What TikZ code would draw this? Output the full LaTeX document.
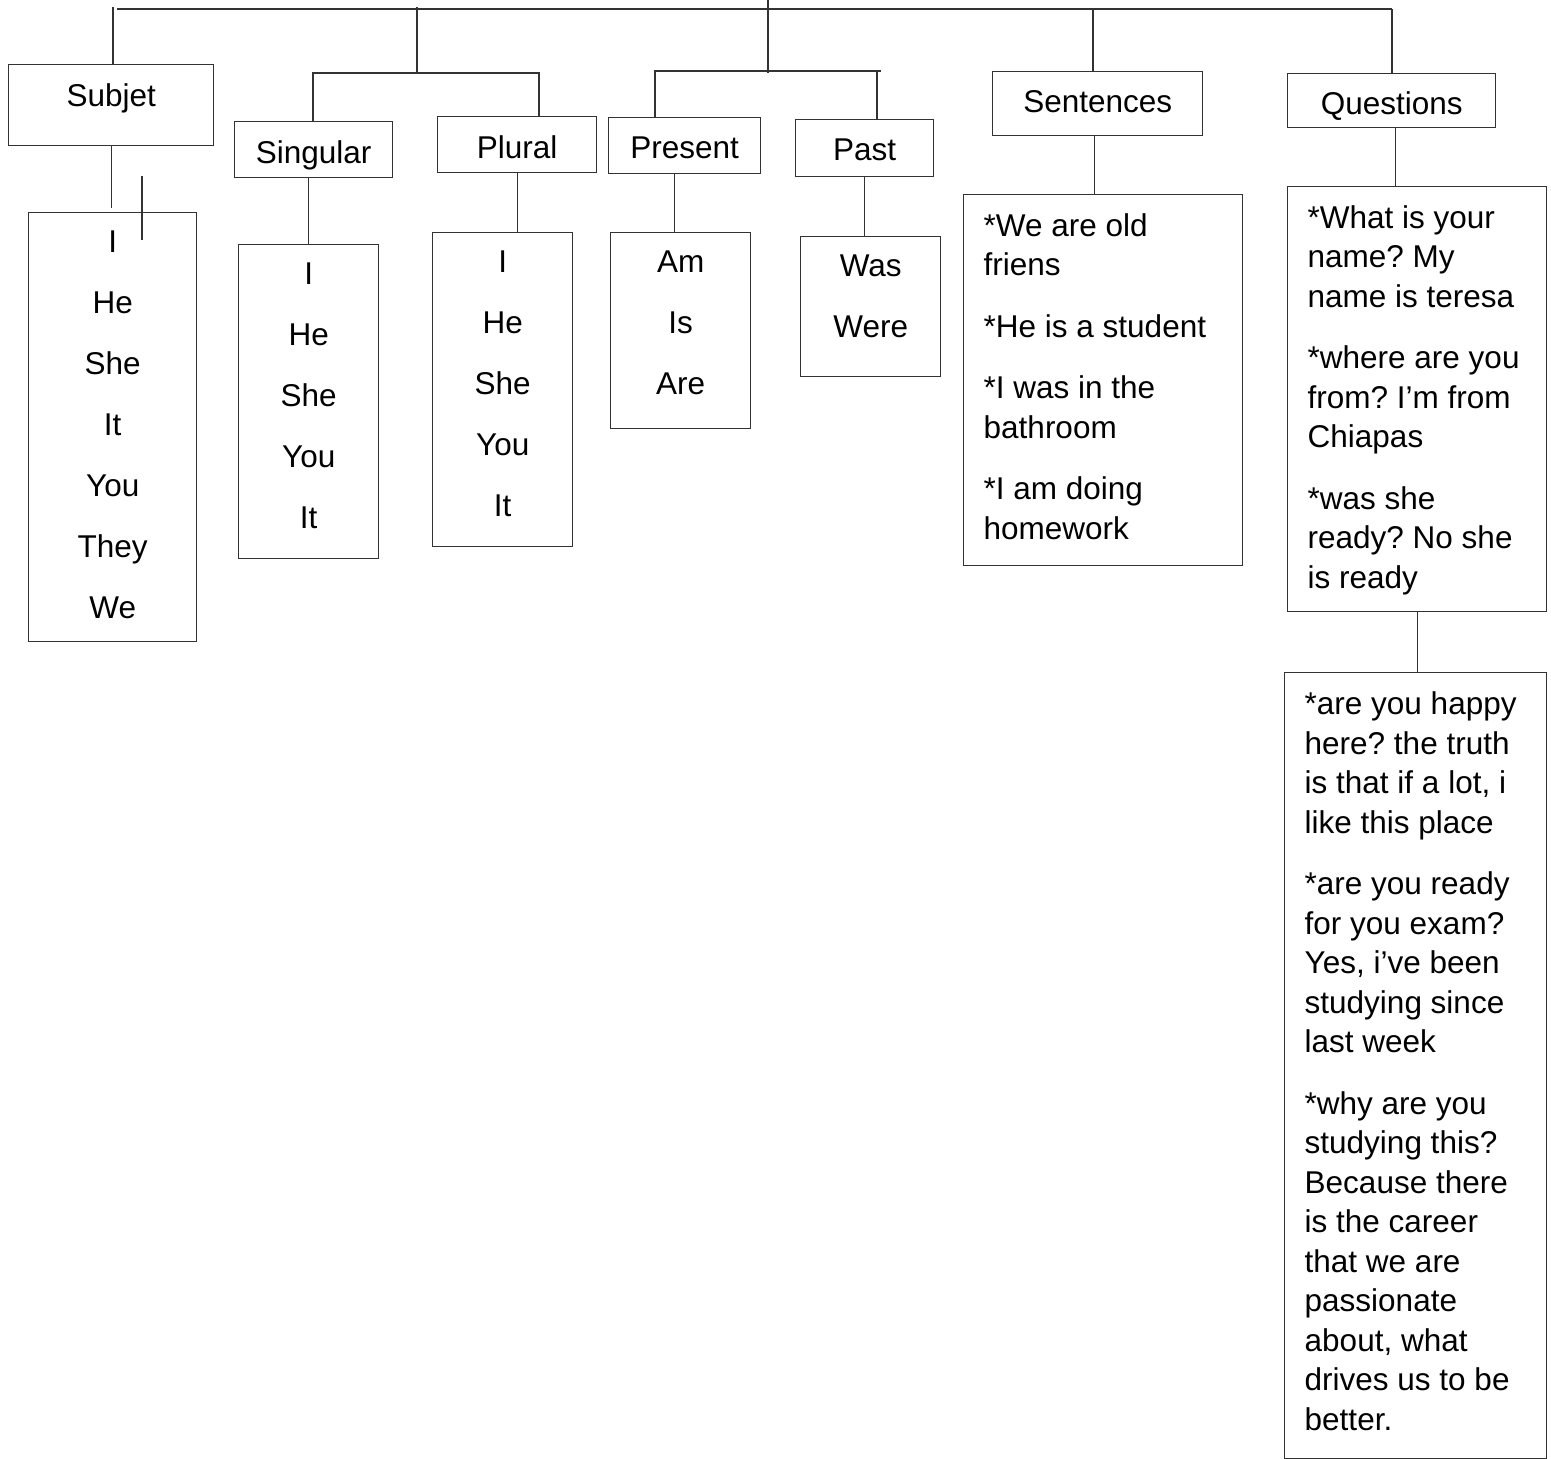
\documentclass[tikz,border=0pt]{standalone}
\usepackage{fontspec}
\setmainfont{Liberation Sans}
\usetikzlibrary{positioning}
\frenchspacing

\begin{document}
\begin{tikzpicture}[x=1pt,y=-1pt,line width=1.4pt,
	box/.style={draw=black!80,anchor=north west,inner sep=0pt},
	title/.style={font=\fontsize{31.5}{39.5}\selectfont,inner sep=0pt},
	items/.style={font=\fontsize{31.5}{61}\selectfont,inner sep=0pt,align=center},
	para/.style={font=\fontsize{31.5}{39.5}\selectfont,inner sep=0pt,align=left},
	link/.style={draw=black!80}]
	\useasboundingbox (0,0) rectangle (1551,1459);
	% subject column
	\node (subjet) [box,minimum width=205,minimum height=81] at (8,64) {};
	\node (subjettxt) [title,below=19pt of subjet.north] {Subjet};
	\node (subjlist) [box,minimum width=168,minimum height=429] at (28,212) {};
	\node (subjlisttxt) [items,below=18.5pt of subjlist.north] {I\\He\\She\\It\\You\\They\\We};
	% singular and plural
	\node (sing) [box,minimum width=158,minimum height=56] at (234,121) {};
	\node (singtxt) [title,below=19pt of sing.north] {Singular};
	\node (singlist) [box,minimum width=140,minimum height=314] at (238,244) {};
	\node (singlisttxt) [items,below=18.5pt of singlist.north] {I\\He\\She\\You\\It};
	\node (plur) [box,minimum width=159,minimum height=56] at (437,116) {};
	\node (plurtxt) [title,below=19pt of plur.north] {Plural};
	\node (plurlist) [box,minimum width=140,minimum height=314] at (432,232) {};
	\node (plurlisttxt) [items,below=18.5pt of plurlist.north] {I\\He\\She\\You\\It};
	% present and past
	\node (pres) [box,minimum width=152,minimum height=56] at (608,117) {};
	\node (prestxt) [title,below=19pt of pres.north] {Present};
	\node (preslist) [box,minimum width=140,minimum height=196] at (610,232) {};
	\node (preslisttxt) [items,below=18.5pt of preslist.north] {Am\\Is\\Are};
	\node (past) [box,minimum width=138,minimum height=57] at (795,119) {};
	\node (pasttxt) [title,below=19pt of past.north] {Past};
	\node (pastlist) [box,minimum width=140,minimum height=140] at (800,236) {};
	\node (pastlisttxt) [items,below=18.5pt of pastlist.north] {Was\\Were};
	% sentences
	\node (sent) [box,minimum width=210,minimum height=64] at (992,71) {};
	\node (senttxt) [title,below=19pt of sent.north] {Sentences};
	\node (sentlist) [box,minimum width=279,minimum height=371] at (963,194) {};
	\node (sentlisttxt) [para,below right=18.5pt and 20pt of sentlist.north west]
		{*We are old\\friens\\[22pt]*He is a student\\[22pt]*I was in the\\bathroom\\[22pt]*I am doing\\homework};
	% questions
	\node (ques) [box,minimum width=208,minimum height=54] at (1287,73) {};
	\node (questxt) [title,below=18pt of ques.north] {Questions};
	\node (queslist) [box,minimum width=259,minimum height=425] at (1287,186) {};
	\node (queslisttxt) [para,below right=18.5pt and 20pt of queslist.north west]
		{*What is your\\name? My\\name is teresa\\[22pt]*where are you\\from? I’m from\\Chiapas\\[22pt]*was she\\ready? No she\\is ready};
	\node (quesmore) [box,minimum width=262,minimum height=786] at (1284,672) {};
	\node (quesmoretxt) [para,below right=19pt and 20pt of quesmore.north west]
		{*are you happy\\here? the truth\\is that if a lot, i\\like this place\\[22pt]*are you ready\\for you exam?\\Yes, i’ve been\\studying since\\last week\\[22pt]*why are you\\studying this?\\Because there\\is the career\\that we are\\passionate\\about, what\\drives us to be\\better.};
	% top bar
	\coordinate (top) at (768,0);
	\coordinate (tense) at (768,73);
	\coordinate (barL) at (117,9);
	\coordinate (barR) at (1392,9);
	\coordinate (jsubj) at (113,7);
	\coordinate (jpron) at (417,7);
	\coordinate (pron) at (417,73);
	\coordinate (jsent) at (1093,9);
	\draw[link] (top) -- (tense);
	\draw[link] (barL) -- (barR);
	\draw[link] (jsubj) -- (jsubj |- subjet.north);
	\draw[link] (jpron) -- (pron);
	\draw[link] (jsent) -- (jsent |- sent.north);
	\draw[link] (barR) -- (barR |- ques.north);
	% brackets
	\coordinate (pronL) at (313,73);
	\coordinate (pronR) at (539,73);
	\draw[link] (pronL |- sing.north) -- (pronL) -- (pronR) -- (pronR |- plur.north);
	\coordinate (tenseL) at (655,71);
	\coordinate (tenseR) at (881,71);
	\coordinate (tenseP) at (877,71);
	\draw[link] (tenseL |- pres.north) -- (tenseL) -- (tenseR);
	\draw[link] (tenseP) -- (tenseP |- past.north);
	% down to the lists
	\draw[link,shorten >=4pt] (subjet.south) -- (subjet.south |- subjlist.north);
	\coordinate (tick) at (142,176);
	\coordinate (tickend) at (142,240);
	\draw[link] (tick) -- (tickend);
	\draw[link] (singlist.north |- sing.south) -- (singlist.north);
	\draw[link] (plur.south) -- (plur.south |- plurlist.north);
	\draw[link] ([xshift=-6pt]preslist.north |- pres.south) -- ([xshift=-6pt]preslist.north);
	\draw[link] (past.south) -- (past.south |- pastlist.north);
	\draw[link] ([xshift=-3pt]sent.south) -- ([xshift=-3pt]sent.south |- sentlist.north);
	\draw[link] ([xshift=4pt]ques.south) -- ([xshift=4pt]ques.south |- queslist.north);
	\draw[link] (queslist.south) -- (queslist.south |- quesmore.north);
\end{tikzpicture}
\end{document}
